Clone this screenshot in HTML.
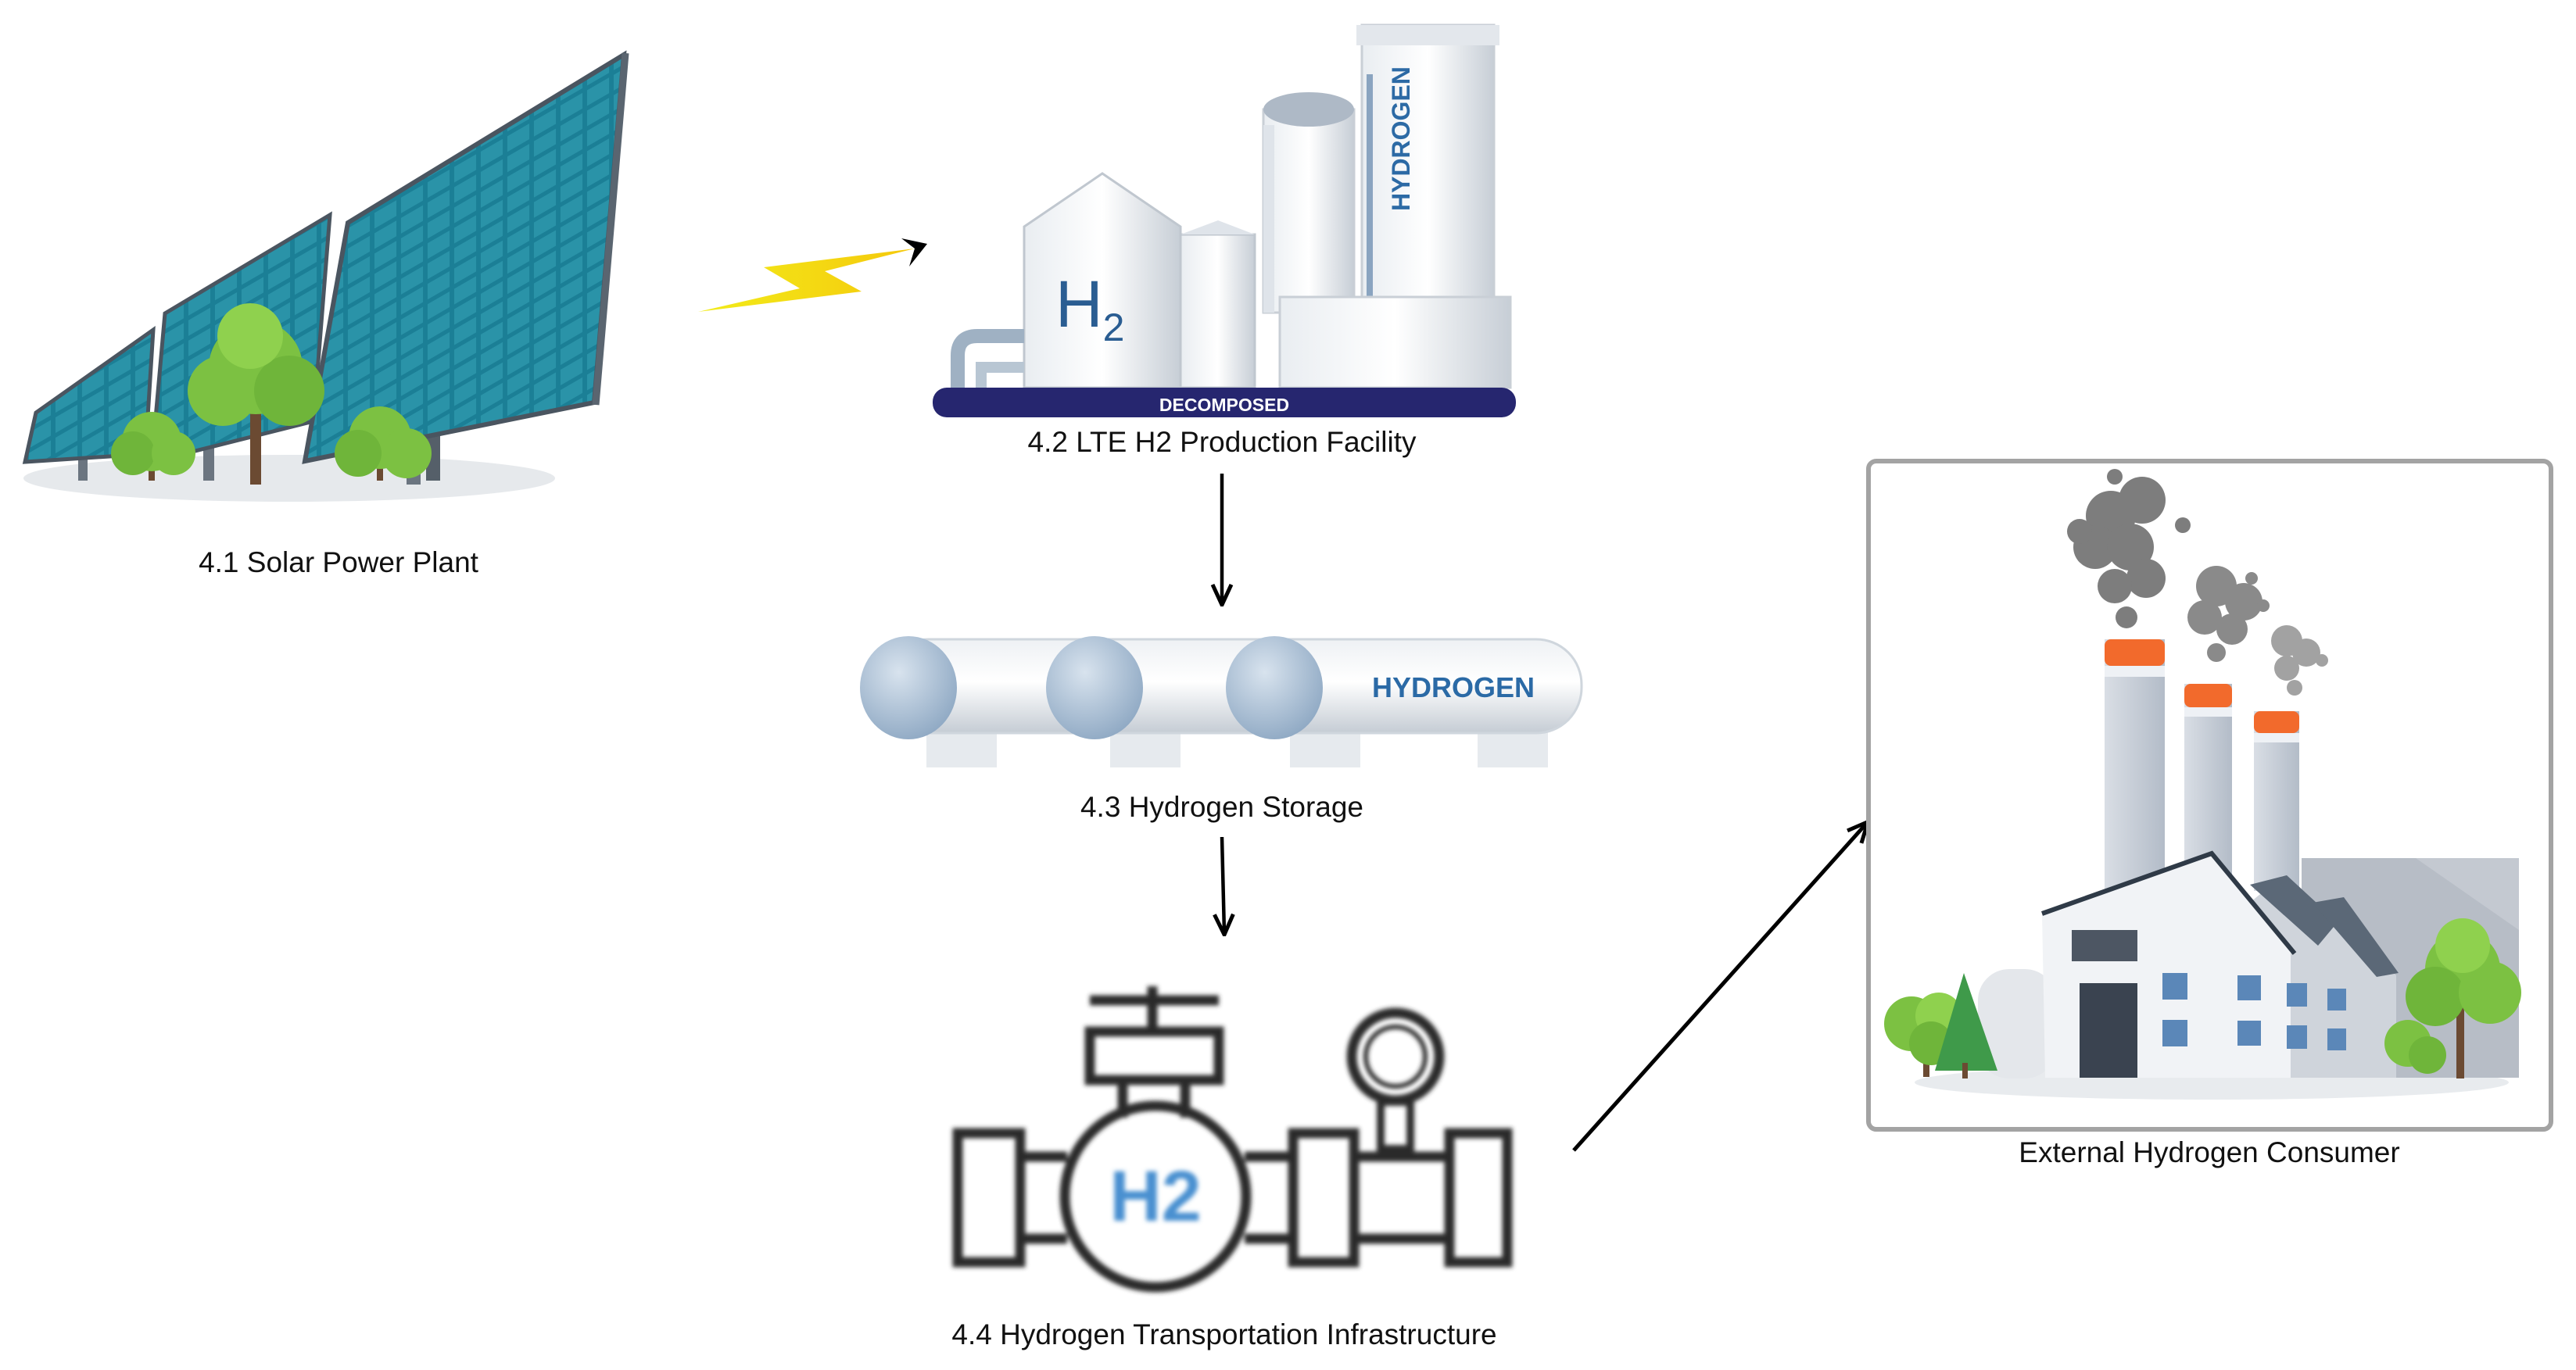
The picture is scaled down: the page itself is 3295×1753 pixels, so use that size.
<!DOCTYPE html>
<html><head><meta charset="utf-8"><style>
html,body{margin:0;padding:0;background:#fff;}
svg{display:block;}
text{font-family:"Liberation Sans",sans-serif;}
</style></head><body>
<svg width="3295" height="1753" viewBox="0 0 3295 1753" xmlns="http://www.w3.org/2000/svg">
<defs>
<pattern id="cells" width="34" height="26" patternUnits="userSpaceOnUse" patternTransform="skewY(-30)">
<rect width="34" height="26" fill="#1b7f96"/><rect x="3" y="3" width="28" height="20" fill="#2a93a8"/>
</pattern>
<linearGradient id="tank" x1="0" x2="1"><stop offset="0" stop-color="#e9edf1"/><stop offset="0.5" stop-color="#ffffff"/><stop offset="1" stop-color="#c7ced6"/></linearGradient>
<linearGradient id="tankv" x1="0" y1="0" x2="0" y2="1"><stop offset="0" stop-color="#eef1f4"/><stop offset="0.45" stop-color="#ffffff"/><stop offset="1" stop-color="#c5ccd4"/></linearGradient>
<radialGradient id="dome" cx="0.4" cy="0.35" r="0.7"><stop offset="0" stop-color="#d8e3ee"/><stop offset="1" stop-color="#8ea8c3"/></radialGradient>
<linearGradient id="chim" x1="0" x2="1"><stop offset="0" stop-color="#d9dee5"/><stop offset="1" stop-color="#b3bcc8"/></linearGradient>
<linearGradient id="bolt" x1="0" x2="1"><stop offset="0" stop-color="#f2ec1a"/><stop offset="1" stop-color="#f5c80c"/></linearGradient>
<filter id="blur"><feGaussianBlur stdDeviation="3"/></filter>
<marker id="ah" markerWidth="30" markerHeight="30" refX="26" refY="15" orient="auto" markerUnits="userSpaceOnUse" viewBox="0 0 30 30"><path d="M2,3 L28,15 L2,27" fill="none" stroke="#000" stroke-width="5"/></marker>
</defs>

<!-- SOLAR -->
<ellipse cx="370" cy="612" rx="340" ry="30" fill="#e6e9ec"/>
<rect x="100" y="560" width="12" height="55" fill="#6b7580"/>
<rect x="260" y="540" width="14" height="75" fill="#6b7580"/>
<rect x="520" y="520" width="18" height="100" fill="#6b7580"/>
<rect x="545" y="515" width="18" height="100" fill="#555f69"/>
<polygon points="46,528 196,422 186,581 32,591" fill="url(#cells)" stroke="#4a5560" stroke-width="5"/>
<polygon points="211,401 422,275 401,539 194,591" fill="url(#cells)" stroke="#4a5560" stroke-width="5"/>
<polygon points="445,285 798,70 760,515 390,590" fill="url(#cells)" stroke="#4a5560" stroke-width="6"/>
<line x1="800" y1="68" x2="762" y2="518" stroke="#5a6570" stroke-width="9"/>
<rect x="320" y="520" width="14" height="100" fill="#6b4a32"/>
<circle cx="327" cy="470" r="60" fill="#7cc142"/><circle cx="285" cy="500" r="45" fill="#7cc142"/><circle cx="370" cy="500" r="45" fill="#6fb53a"/><circle cx="320" cy="430" r="42" fill="#8fd14e"/>
<rect x="190" y="575" width="8" height="40" fill="#6b4a32"/>
<circle cx="194" cy="565" r="38" fill="#7cc142"/><circle cx="170" cy="580" r="28" fill="#6fb53a"/><circle cx="222" cy="580" r="28" fill="#7cc142"/>
<rect x="482" y="575" width="8" height="40" fill="#6b4a32"/>
<circle cx="486" cy="560" r="40" fill="#7cc142"/><circle cx="458" cy="580" r="30" fill="#6fb53a"/><circle cx="520" cy="580" r="32" fill="#7cc142"/>
<text x="433" y="732" font-size="37" text-anchor="middle" fill="#111">4.1 Solar Power Plant</text>

<!-- lightning -->
<polygon points="893,399 1023,369 977,342 1170,318 1055,347 1102,373" fill="url(#bolt)"/>
<polygon points="1186,312 1153,305 1170,318 1163,341" fill="#000"/>

<!-- H2 facility -->
<rect x="1742" y="32" width="169" height="360" fill="url(#tank)" stroke="#c9cfd6" stroke-width="3"/>
<rect x="1735" y="32" width="183" height="26" fill="#e3e7ec"/>
<rect x="1748" y="95" width="8" height="300" fill="#8aa4c0"/>
<text transform="translate(1803,270) rotate(-90)" font-size="32" font-weight="bold" fill="#2c6aa5">HYDROGEN</text>
<rect x="1616" y="140" width="116" height="260" fill="url(#tank)" stroke="#c9cfd6" stroke-width="3"/>
<ellipse cx="1674" cy="140" rx="58" ry="22" fill="#aeb9c6"/>
<rect x="1616" y="160" width="14" height="240" fill="#dfe4ea"/>
<rect x="1637" y="380" width="295" height="116" fill="url(#tank)" stroke="#c9cfd6" stroke-width="3"/>
<rect x="1510" y="300" width="95" height="196" fill="url(#tank)" stroke="#c0c7cf" stroke-width="3"/>
<polygon points="1510,300 1558,282 1605,300" fill="#dfe4ea"/>
<path d="M1310,290 L1410,222 L1510,290 L1510,496 L1310,496 Z" fill="url(#tank)" stroke="#c0c7cf" stroke-width="3"/>
<path d="M1225,496 L1225,455 Q1225,430 1250,430 L1310,430" fill="none" stroke="#9fb1c3" stroke-width="18"/>
<path d="M1255,496 L1255,470 L1310,470" fill="none" stroke="#b8c6d3" stroke-width="14"/>
<text x="1350" y="418" font-size="84" fill="#2a5d92">H<tspan font-size="50" dy="18">2</tspan></text>
<rect x="1193" y="496" width="746" height="38" rx="18" fill="#26266f"/>
<text x="1566" y="526" font-size="23" font-weight="bold" fill="#fff" text-anchor="middle">DECOMPOSED</text>
<text x="1563" y="578" font-size="37" text-anchor="middle" fill="#111">4.2 LTE H2 Production Facility</text>

<line x1="1563" y1="606" x2="1563" y2="772" stroke="#000" stroke-width="4.5" marker-end="url(#ah)"/>

<!-- storage -->
<rect x="1185" y="925" width="90" height="57" fill="#e6eaee"/><rect x="1420" y="925" width="90" height="57" fill="#e6eaee"/>
<rect x="1650" y="925" width="90" height="57" fill="#e6eaee"/><rect x="1890" y="925" width="90" height="57" fill="#e6eaee"/>
<rect x="1130" y="818" width="893" height="120" rx="58" fill="url(#tankv)" stroke="#cfd6dd" stroke-width="3"/>
<ellipse cx="1162" cy="880" rx="62" ry="66" fill="url(#dome)"/>
<ellipse cx="1400" cy="880" rx="62" ry="66" fill="url(#dome)"/>
<ellipse cx="1630" cy="880" rx="62" ry="66" fill="url(#dome)"/>
<text x="1755" y="892" font-size="36" font-weight="bold" fill="#2b6aa6">HYDROGEN</text>
<text x="1563" y="1045" font-size="37" text-anchor="middle" fill="#111">4.3 Hydrogen Storage</text>

<line x1="1563" y1="1071" x2="1566" y2="1194" stroke="#000" stroke-width="4.5" marker-end="url(#ah)"/>

<!-- pipe -->
<g filter="url(#blur)" fill="none" stroke="#2a2a2a" stroke-width="13">
<line x1="1394" y1="1280" x2="1559" y2="1280"/><line x1="1474" y1="1262" x2="1474" y2="1320"/>
<rect x="1394" y="1320" width="165" height="62"/>
<line x1="1436" y1="1382" x2="1436" y2="1430"/><line x1="1516" y1="1382" x2="1516" y2="1430"/>
<circle cx="1478" cy="1531" r="116"/>
<rect x="1225" y="1450" width="80" height="165"/>
<line x1="1305" y1="1480" x2="1365" y2="1480"/><line x1="1305" y1="1585" x2="1365" y2="1585"/>
<line x1="1592" y1="1480" x2="1654" y2="1480"/><line x1="1592" y1="1585" x2="1654" y2="1585"/>
<rect x="1654" y="1450" width="78" height="165"/>
<line x1="1732" y1="1480" x2="1854" y2="1480"/><line x1="1732" y1="1585" x2="1854" y2="1585"/>
<rect x="1854" y="1450" width="74" height="165"/>
<circle cx="1785" cy="1352" r="56"/><circle cx="1785" cy="1352" r="38" stroke-width="6"/>
<rect x="1766" y="1410" width="38" height="60" stroke-width="10"/>
</g>
<text x="1478" y="1562" font-size="92" font-weight="bold" text-anchor="middle" fill="#4a90d0" filter="url(#blur)">H2</text>
<text x="1566" y="1720" font-size="37" text-anchor="middle" fill="#111">4.4 Hydrogen Transportation Infrastructure</text>

<line x1="2013" y1="1472" x2="2388" y2="1053" stroke="#000" stroke-width="5" marker-end="url(#ah)"/>

<!-- consumer -->
<rect x="2390" y="590" width="873" height="855" rx="10" fill="#fff" stroke="#a3a3a3" stroke-width="6"/>
<ellipse cx="2829" cy="1385" rx="380" ry="22" fill="#e8ebee"/>
<g fill="#7d7d7d">
<circle cx="2700" cy="660" r="32"/><circle cx="2740" cy="640" r="30"/><circle cx="2680" cy="700" r="28"/><circle cx="2725" cy="700" r="30"/><circle cx="2745" cy="740" r="25"/><circle cx="2705" cy="750" r="22"/><circle cx="2720" cy="790" r="14"/><circle cx="2660" cy="680" r="16"/><circle cx="2792" cy="672" r="10"/><circle cx="2705" cy="610" r="10"/>
</g>
<g fill="#8a8a8a">
<circle cx="2835" cy="750" r="26"/><circle cx="2870" cy="770" r="24"/><circle cx="2820" cy="790" r="22"/><circle cx="2855" cy="805" r="20"/><circle cx="2835" cy="835" r="12"/><circle cx="2880" cy="740" r="8"/><circle cx="2895" cy="775" r="8"/>
</g>
<g fill="#a2a2a2">
<circle cx="2925" cy="820" r="20"/><circle cx="2950" cy="835" r="18"/><circle cx="2925" cy="855" r="16"/><circle cx="2935" cy="880" r="10"/><circle cx="2970" cy="845" r="8"/>
</g>
<rect x="2692" y="818" width="77" height="330" fill="url(#chim)"/><rect x="2692" y="818" width="77" height="34" rx="8" fill="#f26a2c"/><rect x="2692" y="852" width="77" height="14" fill="#eef1f5"/>
<rect x="2794" y="875" width="61" height="260" fill="url(#chim)"/><rect x="2794" y="875" width="61" height="30" rx="8" fill="#f26a2c"/><rect x="2794" y="905" width="61" height="12" fill="#eef1f5"/>
<rect x="2883" y="910" width="58" height="230" fill="url(#chim)"/><rect x="2883" y="910" width="58" height="28" rx="8" fill="#f26a2c"/><rect x="2883" y="938" width="58" height="12" fill="#eef1f5"/>
<rect x="2944" y="1098" width="278" height="281" fill="#c4c9d1"/>
<polygon points="2944,1098 3090,1098 3222,1190 3222,1379 2944,1379" fill="#b7bdc6"/>
<rect x="2530" y="1240" width="100" height="140" rx="40" fill="#e4e7eb"/>
<polygon points="2861,1169 2920,1120 3065,1248 3065,1379 2861,1379" fill="#cfd4db"/>
<polygon points="2878,1132 2925,1120 2990,1180 2965,1210" fill="#5b6877"/>
<polygon points="2958,1155 2998,1148 3068,1245 3040,1250" fill="#5b6877"/>
<polygon points="2612,1169 2829,1092 2930,1210 2930,1379 2616,1379" fill="#f1f3f6"/>
<polyline points="2612,1169 2829,1092 2935,1220" fill="none" stroke="#2f3a47" stroke-width="6"/>
<rect x="2650" y="1190" width="84" height="40" fill="#4d5663"/>
<rect x="2660" y="1258" width="74" height="121" fill="#3a4350"/>
<g fill="#5b87b8"><rect x="2766" y="1245" width="32" height="34"/><rect x="2766" y="1305" width="32" height="34"/><rect x="2862" y="1248" width="30" height="32"/><rect x="2862" y="1306" width="30" height="32"/><rect x="2925" y="1258" width="26" height="30"/><rect x="2925" y="1312" width="26" height="30"/><rect x="2977" y="1265" width="24" height="28"/><rect x="2977" y="1316" width="24" height="28"/></g>
<rect x="2460" y="1320" width="8" height="58" fill="#6b4a32"/>
<circle cx="2445" cy="1310" r="35" fill="#7cc142"/><circle cx="2480" cy="1300" r="30" fill="#8fd14e"/><circle cx="2470" cy="1335" r="28" fill="#6fb53a"/>
<polygon points="2512,1245 2475,1370 2555,1370" fill="#3f9a4a"/><rect x="2510" y="1360" width="7" height="20" fill="#6b4a32"/>
<rect x="3142" y="1280" width="10" height="100" fill="#6b4a32"/>
<circle cx="3150" cy="1240" r="48" fill="#7cc142"/><circle cx="3115" cy="1275" r="38" fill="#6fb53a"/><circle cx="3185" cy="1270" r="40" fill="#7cc142"/><circle cx="3150" cy="1210" r="35" fill="#8fd14e"/>
<circle cx="3080" cy="1335" r="30" fill="#7cc142"/><circle cx="3105" cy="1350" r="24" fill="#6fb53a"/>
<text x="2826" y="1487" font-size="37" text-anchor="middle" fill="#111">External Hydrogen Consumer</text>
</svg>
</body></html>
